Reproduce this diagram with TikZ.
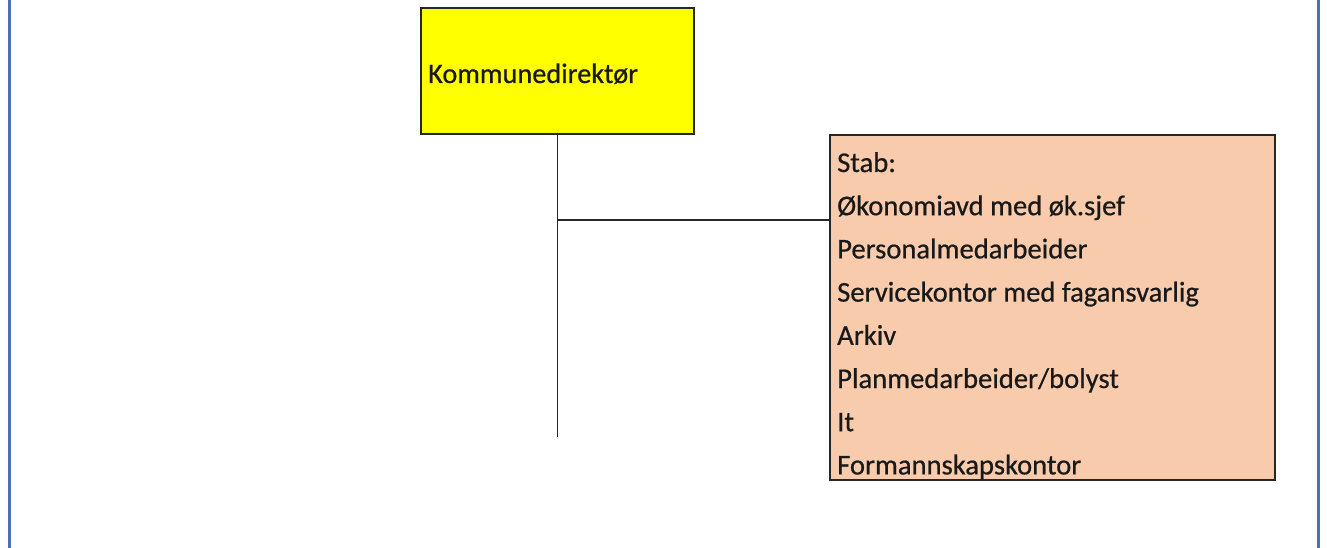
\documentclass[tikz,border=0pt]{standalone}
\usepackage{fontspec}
\setmainfont[FakeBold=0.6]{Carlito}
\definecolor{frameblue}{HTML}{4A6FB5}
\definecolor{peach}{HTML}{F7CBAC}
\definecolor{ylw}{HTML}{FFFF00}
\begin{document}
\begin{tikzpicture}[x=1pt,y=-1pt,
  box/.style={draw=black!85,line width=1.8pt,anchor=north west,inner sep=0pt,outer sep=0pt},
  conn/.style={draw=black!85,line width=1.6pt},
  txt/.style={anchor=base west,inner sep=0pt,text=black!90},
  kdtxt/.style={txt,font=\fontsize{28.3}{33}\selectfont},
  stxt/.style={txt,font=\fontsize{28.6}{34}\selectfont}]
\useasboundingbox (0,0) rectangle (1327,548);
\fill[white] (0,0) rectangle (1327,548);
\draw[frameblue,line width=3pt] (9.5,-20) rectangle (1318.5,570);
% boxes
\node[box,fill=ylw,minimum width=273pt,minimum height=126pt] (kd) at (421,8) {};
\node[kdtxt] (kdt) at (428,83) {Kommunedirektør};
\node[box,fill=peach,minimum width=445pt,minimum height=345pt] (stab) at (830,135) {};
\foreach \t [count=\i] in {Stab:,Økonomiavd med øk.sjef,Personalmedarbeider,Servicekontor med fagansvarlig,Arkiv,Planmedarbeider/bolyst,It,Formannskapskontor}
  \node[stxt] (s\i) at (837,{172+43.2*(\i-1)}) {\t};
% connectors
\coordinate (j) at (kd.south |- 0,220);
\coordinate (e) at (kd.south |- 0,437);
\draw[conn] (kd.south) -- (e);
\draw[conn] (j) -- (j -| stab.west);
\end{tikzpicture}
\end{document}
